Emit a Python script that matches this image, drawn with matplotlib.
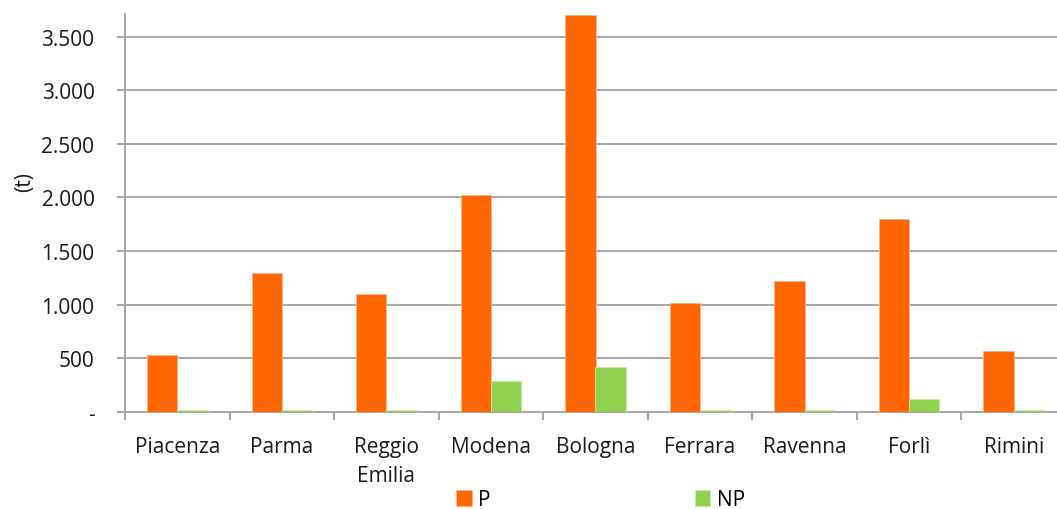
import numpy as np
import matplotlib
matplotlib.use("Agg")
import matplotlib.pyplot as plt

# dati
province = ["Piacenza", "Parma", "Reggio\nEmilia", "Modena", "Bologna",
            "Ferrara", "Ravenna", "Forlì", "Rimini"]
P = [530, 1300, 1100, 2020, 3700, 1015, 1225, 1800, 570]
NP = [15, 15, 15, 290, 420, 15, 15, 120, 15]
yticks = [0, 500, 1000, 1500, 2000, 2500, 3000, 3500]
ylabels = ["-", "500", "1.000", "1.500", "2.000", "2.500", "3.000", "3.500"]

plt.rcParams["font.family"] = ["Open Sans", "DejaVu Sans"]
plt.rcParams["font.size"] = 15

fig = plt.figure(figsize=(10.57, 5.10), dpi=100)
ax = fig.add_axes([125/1057, 97/510, 941/1057, 398/510])

x = np.arange(len(province))
w = 0.29
bP = ax.bar(x - w/2, P, w, color="#FF6600", edgecolor="#FFB38A", linewidth=0.6, label="P", zorder=3)
bNP = ax.bar(x + w/2, NP, w, color="#92D050", edgecolor="#C9E8A8", linewidth=0.6, label="NP", zorder=3)

ax.set_xlim(-0.5, len(province) - 0.5)
ax.set_ylim(0, 3710)
ax.set_yticks(yticks)
ax.set_yticklabels(ylabels, color="#1a1a1a")
ax.yaxis.grid(True, color="#A6A6A6", linewidth=1.4, zorder=0)
ax.set_xticks(x)
ax.set_xticklabels(province, color="#1a1a1a", linespacing=1.55)
ax.set_xticks(np.arange(len(province) + 1) - 0.5, minor=True)
ax.tick_params(axis="x", which="major", length=0, pad=17)
ax.tick_params(axis="x", which="minor", length=6, width=1.4, color="#A6A6A6")
ax.tick_params(axis="y", length=6, width=1.4, color="#A6A6A6", pad=16)
for s in ["top", "right"]:
    ax.spines[s].set_visible(False)
for s in ["left", "bottom"]:
    ax.spines[s].set_color("#A6A6A6")
    ax.spines[s].set_linewidth(1.4)
ax.set_ylabel("(t)", color="#1a1a1a")
ax.yaxis.set_label_coords(-0.095, 0.58)

fig.legend(handles=[bP, bNP], labels=["P", "NP"], loc="center", ncol=2,
           bbox_to_anchor=(0.568, 0.018), frameon=False, handlelength=0.75,
           handleheight=0.75, handletextpad=0.3, columnspacing=9.8)

fig.savefig("out.png", dpi=100)
